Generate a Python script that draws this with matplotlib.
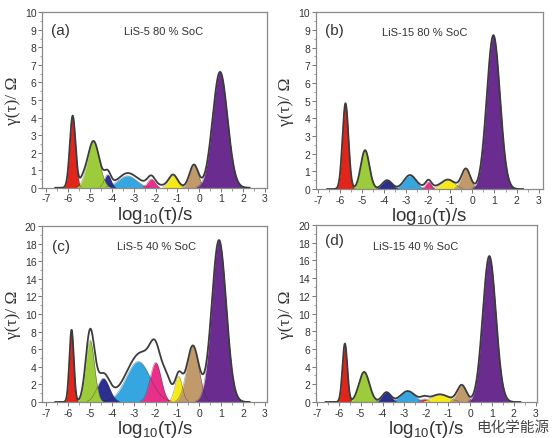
import numpy as np
import matplotlib
matplotlib.use("Agg")
import matplotlib.pyplot as plt
from matplotlib.ticker import MultipleLocator

plt.rcParams['font.family'] = ['Liberation Sans', 'DejaVu Sans']
plt.rcParams['mathtext.fontset'] = 'custom'
plt.rcParams['mathtext.rm'] = 'Liberation Sans'
plt.rcParams['mathtext.it'] = 'Liberation Sans:italic'
plt.rcParams['axes.unicode_minus'] = False

# ---- data: fitted DRT peaks (center log10(tau), height, width) ----
peak_colors = ['#e3241b', '#9ccb3b', '#2b2f8e', '#35a6e0', '#e8308a', '#f5ea14', '#c09a6b', '#6a2c8f']
draw_order = [3, 2, 0, 1, 4, 5, 6, 7]

a_centers = [-5.80, -4.85, -4.20, -3.30, -2.20, -1.20, -0.25, 0.95]
a_heights = [4.1, 2.65, 0.75, 0.68, 0.50, 0.68, 1.30, 6.6]
a_widths = [0.13, 0.27, 0.15, 0.42, 0.17, 0.20, 0.20, 0.34]
a_extra_c = [-5.35, -2.6]
a_extra_h = [0.30, 0.20]
a_extra_w = [0.15, 1.0]

b_centers = [-5.77, -4.88, -3.88, -2.85, -2.00, -1.10, -0.30, 0.95]
b_heights = [4.85, 2.2, 0.50, 0.75, 0.40, 0.50, 1.15, 8.7]
b_widths = [0.135, 0.195, 0.22, 0.27, 0.13, 0.30, 0.20, 0.30]
b_extra_c = [-2.0]
b_extra_h = [0.12]
b_extra_w = [0.6]

c_centers = [-5.85, -5.00, -4.40, -2.80, -2.00, -0.95, -0.30, 0.90]
c_heights = [8.2, 7.0, 2.7, 4.6, 4.5, 2.9, 6.4, 18.4]
c_widths = [0.10, 0.20, 0.28, 0.55, 0.25, 0.17, 0.28, 0.33]
c_extra_c = [-5.0, -4.3, -3.5, -2.4, -1.5]
c_extra_h = [1.0, 0.3, 0.5, 1.2, 2.4]
c_extra_w = [0.2, 0.3, 0.6, 0.35, 0.22]

d_centers = [-5.72, -4.84, -3.82, -2.86, -2.10, -1.35, -0.38, 0.88]
d_heights = [6.6, 3.4, 1.1, 1.2, 0.35, 0.80, 1.9, 16.5]
d_widths = [0.11, 0.24, 0.20, 0.32, 0.15, 0.40, 0.21, 0.30]
d_extra_c = [-2.0]
d_extra_h = [0.15]
d_extra_w = [0.5]

panel_letters = ['(a)', '(b)', '(c)', '(d)']
panel_titles = ['LiS-5 80 % SoC', 'LiS-15 80 % SoC', 'LiS-5 40 % SoC', 'LiS-15 40 % SoC']
y_limits = [10, 10, 20, 20]
x_ticks = [-7, -6, -5, -4, -3, -2, -1, 0, 1, 2, 3]
watermark = '电化学能源'

panels = [
    (a_centers, a_heights, a_widths, a_extra_c, a_extra_h, a_extra_w),
    (b_centers, b_heights, b_widths, b_extra_c, b_extra_h, b_extra_w),
    (c_centers, c_heights, c_widths, c_extra_c, c_extra_h, c_extra_w),
    (d_centers, d_heights, d_widths, d_extra_c, d_extra_h, d_extra_w),
]

positions = [
    [0.076, 0.570, 0.406, 0.400],
    [0.570, 0.567, 0.410, 0.403],
    [0.076, 0.082, 0.406, 0.401],
    [0.570, 0.082, 0.399, 0.403],
]
letter_pos = [(0.04, 0.90), (0.04, 0.90), (0.045, 0.885), (0.04, 0.915)]
title_pos = [(0.54, 0.895), (0.48, 0.89), (0.51, 0.885), (0.45, 0.88)]
xlims = [(-7.2, 3.1), (-7.12, 3.2), (-7.2, 3.1), (-7.05, 3.05)]


def gauss(x, c, h, w):
    return h * np.exp(-(x - c) ** 2 / (2 * w ** 2))


fig = plt.figure(figsize=(5.54, 4.39), dpi=100)
x = np.linspace(-6.6, 2.3, 1500)

for i, (cs, hs, ws, ec, eh, ew) in enumerate(panels):
    ax = fig.add_axes(positions[i])
    total = np.zeros_like(x)
    comps = []
    for c, h, w in zip(cs, hs, ws):
        g = gauss(x, c, h, w)
        comps.append(g)
        total += g
    for c, h, w in zip(ec, eh, ew):
        total += gauss(x, c, h, w)
    for k in draw_order:
        g = comps[k]
        m = g > 0.004 * y_limits[i]
        ax.fill_between(x, 0, g, where=m, color=peak_colors[k], lw=0, zorder=2)
        ax.plot(x[m], g[m], color='#2a2a2a', lw=0.4, alpha=0.5, zorder=3)
    ax.plot(x, total, color='#3c3c3c', lw=1.3, zorder=4)

    ax.set_xlim(*xlims[i])
    ax.set_ylim(0, y_limits[i])
    ax.set_xticks(x_ticks)
    ax.xaxis.set_minor_locator(MultipleLocator(0.5))
    ax.yaxis.set_major_locator(MultipleLocator(1 if y_limits[i] == 10 else 2))
    ax.yaxis.set_minor_locator(MultipleLocator(0.5 if y_limits[i] == 10 else 1))
    ax.tick_params(which='major', direction='out', length=3, width=0.7,
                   labelsize=7.5, colors='#777777', labelcolor='#333333', pad=1)
    ax.tick_params(which='minor', direction='out', length=1.8, width=0.5, colors='#777777')
    for s in ax.spines.values():
        s.set_color('#8a8a8a')
        s.set_linewidth(0.9)
    ax.set_xlabel('log$_{10}$(τ)/s', fontsize=13.5, color='#333333', labelpad=0.5)
    ax.set_ylabel('γ(τ)/ Ω', fontsize=12.5, color='#333333', labelpad=3,
                  family=['Liberation Serif', 'DejaVu Serif'])
    ax.text(letter_pos[i][0], letter_pos[i][1], panel_letters[i], transform=ax.transAxes,
            fontsize=11, color='#333333', va='center', ha='left')
    ax.text(title_pos[i][0], title_pos[i][1], panel_titles[i], transform=ax.transAxes,
            fontsize=8, color='#333333', va='center', ha='center')

fig.text(0.925, 0.024, watermark, fontsize=10.5, color='#444444', ha='center', va='center',
         family=['Noto Sans CJK SC', 'DejaVu Sans'])

fig.savefig('out.png', dpi=100)
